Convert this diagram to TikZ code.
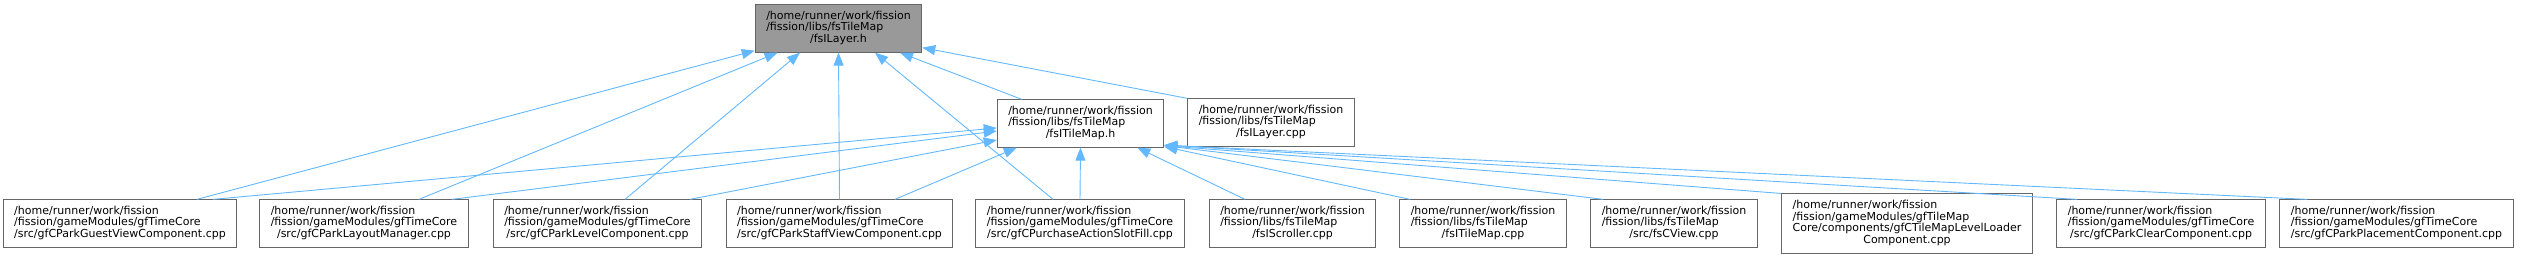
\documentclass[tikz,border=0pt]{standalone}
\usepackage{fontspec}
\setmainfont{DejaVu Sans}
\usetikzlibrary{arrows.meta}
\definecolor{edgeblue}{HTML}{63B8FF}
\definecolor{boxgray}{HTML}{666666}
\definecolor{curgray}{HTML}{999999}
\tikzset{
  % File boxes
  filenode/.style={
    draw=boxgray, fill=white, line width=1pt,
    inner xsep=11pt, inner ysep=5.8pt,
    font=\fontsize{11}{11.8}\selectfont
  },
  curnode/.style={filenode, fill=curgray},
  % Include edges
  incl/.style={
    draw=edgeblue, line width=0.9pt,
    -{Triangle[length=13pt,width=10pt]}
  },
}
% lines flush left, last line centred
\newcommand{\pathlabel}[2]{%
  \begin{tabular}{@{}l@{}}#1\\\multicolumn{1}{@{}c@{}}{#2}\end{tabular}}

\begin{document}
\begin{tikzpicture}[x=1pt, y=1pt]
  \useasboundingbox (0,0) rectangle (2527,259);

  %% ── Headers ──
  \node[curnode] (layerh) at (838.5,230.5)
    {\pathlabel{/home/runner/work/fission\\/fission/libs/fsTileMap}{/fsILayer.h}};
  \node[filenode] (tilemaph) at (1080.5,135.5)
    {\pathlabel{/home/runner/work/fission\\/fission/libs/fsTileMap}{/fsITileMap.h}};
  \node[filenode] (layercpp) at (1271,136.5)
    {\pathlabel{/home/runner/work/fission\\/fission/libs/fsTileMap}{/fsILayer.cpp}};

  %% ── Sources ──
  \node[filenode] (guest) at (120,35.5)
    {\pathlabel{/home/runner/work/fission\\/fission/gameModules/gfTimeCore}{/src/gfCParkGuestViewComponent.cpp}};
  \node[filenode] (layout) at (364,35.5)
    {\pathlabel{/home/runner/work/fission\\/fission/gameModules/gfTimeCore}{/src/gfCParkLayoutManager.cpp}};
  \node[filenode] (level) at (597.5,35.5)
    {\pathlabel{/home/runner/work/fission\\/fission/gameModules/gfTimeCore}{/src/gfCParkLevelComponent.cpp}};
  \node[filenode] (staff) at (839.5,35.5)
    {\pathlabel{/home/runner/work/fission\\/fission/gameModules/gfTimeCore}{/src/gfCParkStaffViewComponent.cpp}};
  \node[filenode] (purchase) at (1080,35.5)
    {\pathlabel{/home/runner/work/fission\\/fission/gameModules/gfTimeCore}{/src/gfCPurchaseActionSlotFill.cpp}};
  \node[filenode] (scroller) at (1292.5,35.5)
    {\pathlabel{/home/runner/work/fission\\/fission/libs/fsTileMap}{/fsIScroller.cpp}};
  \node[filenode] (tilemapcpp) at (1483,35.5)
    {\pathlabel{/home/runner/work/fission\\/fission/libs/fsTileMap}{/fsITileMap.cpp}};
  \node[filenode] (cview) at (1674,35.5)
    {\pathlabel{/home/runner/work/fission\\/fission/libs/fsTileMap}{/src/fsCView.cpp}};
  \node[filenode] (loader) at (1907,35.5)
    {\pathlabel{/home/runner/work/fission\\/fission/gameModules/gfTileMap\\Core/components/gfCTileMapLevelLoader}{Component.cpp}};
  \node[filenode] (clear) at (2161,35.5)
    {\pathlabel{/home/runner/work/fission\\/fission/gameModules/gfTimeCore}{/src/gfCParkClearComponent.cpp}};
  \node[filenode] (placement) at (2396.5,35.5)
    {\pathlabel{/home/runner/work/fission\\/fission/gameModules/gfTimeCore}{/src/gfCParkPlacementComponent.cpp}};

  %% ── Edges ──
  % fsILayer.h
  \draw[incl] ([xshift=77pt]guest.north) -- ([yshift=2pt]layerh.south west);
  \draw[incl] ([xshift=55pt]layout.north) -- ([xshift=-61pt]layerh.south);
  \draw[incl] ([xshift=27.5pt]level.north) -- ([xshift=-38.5pt]layerh.south);
  \draw[incl] (staff.north) -- (layerh.south);
  \draw[incl] ([xshift=-27pt]purchase.north) -- ([xshift=36.5pt]layerh.south);
  \draw[incl] ([xshift=25pt]tilemaph.north west) -- ([xshift=61.5pt]layerh.south);
  \draw[incl] (layercpp.north west) -- ([yshift=5pt]layerh.south east);

  % fsITileMap.h
  \draw[incl] ([xshift=93pt]guest.north) -- ([yshift=-4.5pt]tilemaph.west);
  \draw[incl] ([xshift=88pt]layout.north) -- ([yshift=-7.5pt]tilemaph.west);
  \draw[incl] ([xshift=92.5pt]level.north) -- ([yshift=-16.5pt]tilemaph.west);
  \draw[incl] ([xshift=55.5pt]staff.north) -- ([xshift=20pt]tilemaph.south west);
  \draw[incl] (purchase.north) -- (tilemaph.south);
  \draw[incl] ([xshift=-47.5pt]scroller.north) -- ([xshift=-27pt]tilemaph.south east);
  \draw[incl] ([xshift=-73pt]tilemapcpp.north) -- ([yshift=1pt]tilemaph.south east);
  \draw[incl] ([xshift=-71pt]cview.north) -- ([yshift=2pt]tilemaph.south east);
  \draw[incl] (loader.north west) -- ([yshift=2pt]tilemaph.south east);
  \draw[incl] ([xshift=-84pt]clear.north) -- ([yshift=2.5pt]tilemaph.south east);
  \draw[incl] ([xshift=-89.5pt]placement.north) -- ([yshift=2.5pt]tilemaph.south east);

\end{tikzpicture}
\end{document}
